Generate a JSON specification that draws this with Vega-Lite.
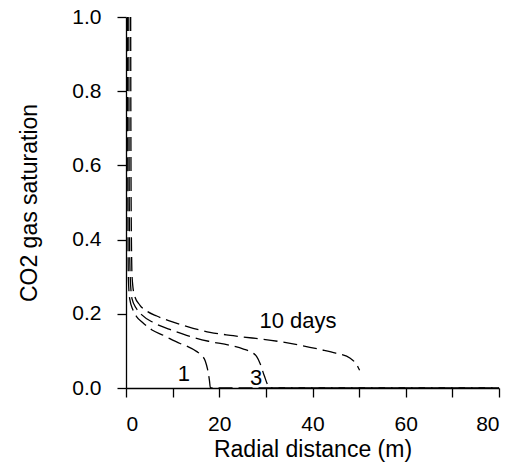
{
  "$schema": "https://vega.github.io/schema/vega-lite/v6.json",
  "autosize": "none",
  "width": 373,
  "height": 371,
  "padding": {"left": 126, "top": 17, "right": 14, "bottom": 82},
  "config": {
    "view": {"stroke": null},
    "font": "Liberation Sans",
    "axis": {"grid": false, "domainColor": "black", "tickColor": "black", "labelColor": "black", "titleColor": "black", "labelFont": "Liberation Sans", "titleFont": "Liberation Sans", "labelFontSize": 21, "titleFontSize": 23, "titleFontWeight": "normal", "tickSize": 9, "domainWidth": 1.3, "tickWidth": 1.3}
  },
  "datasets": {
    "curves": [
      {"day": "1", "r": 0.3, "s": 1.0},
      {"day": "1", "r": 0.4, "s": 0.5},
      {"day": "1", "r": 0.5, "s": 0.3},
      {"day": "1", "r": 0.8, "s": 0.24},
      {"day": "1", "r": 1.5, "s": 0.21},
      {"day": "1", "r": 2.3, "s": 0.192},
      {"day": "1", "r": 3.5, "s": 0.177},
      {"day": "1", "r": 5.5, "s": 0.157},
      {"day": "1", "r": 8.0, "s": 0.142},
      {"day": "1", "r": 11.6, "s": 0.12},
      {"day": "1", "r": 13.0, "s": 0.113},
      {"day": "1", "r": 15.2, "s": 0.098},
      {"day": "1", "r": 16.2, "s": 0.088},
      {"day": "1", "r": 17.0, "s": 0.073},
      {"day": "1", "r": 17.5, "s": 0.05},
      {"day": "1", "r": 17.9, "s": 0.02},
      {"day": "1", "r": 18.1, "s": 0.0},
      {"day": "1", "r": 80, "s": 0.0},
      {"day": "3", "r": 0.6, "s": 1.0},
      {"day": "3", "r": 0.7, "s": 0.5},
      {"day": "3", "r": 0.9, "s": 0.3},
      {"day": "3", "r": 1.3, "s": 0.24},
      {"day": "3", "r": 2.2, "s": 0.215},
      {"day": "3", "r": 3.4, "s": 0.197},
      {"day": "3", "r": 5.9, "s": 0.176},
      {"day": "3", "r": 9.4, "s": 0.158},
      {"day": "3", "r": 13.0, "s": 0.142},
      {"day": "3", "r": 17.7, "s": 0.126},
      {"day": "3", "r": 22.3, "s": 0.115},
      {"day": "3", "r": 25.2, "s": 0.105},
      {"day": "3", "r": 26.8, "s": 0.097},
      {"day": "3", "r": 28.0, "s": 0.085},
      {"day": "3", "r": 28.8, "s": 0.065},
      {"day": "3", "r": 29.6, "s": 0.035},
      {"day": "3", "r": 30.9, "s": 0.0},
      {"day": "3", "r": 80, "s": 0.0},
      {"day": "10", "r": 1.0, "s": 1.0},
      {"day": "10", "r": 1.1, "s": 0.5},
      {"day": "10", "r": 1.3, "s": 0.3},
      {"day": "10", "r": 1.8, "s": 0.25},
      {"day": "10", "r": 3.0, "s": 0.223},
      {"day": "10", "r": 4.5, "s": 0.207},
      {"day": "10", "r": 6.6, "s": 0.194},
      {"day": "10", "r": 9.8, "s": 0.179},
      {"day": "10", "r": 14.4, "s": 0.161},
      {"day": "10", "r": 18.0, "s": 0.15},
      {"day": "10", "r": 23.0, "s": 0.141},
      {"day": "10", "r": 33.0, "s": 0.125},
      {"day": "10", "r": 41.6, "s": 0.104},
      {"day": "10", "r": 45.0, "s": 0.094},
      {"day": "10", "r": 48.1, "s": 0.08},
      {"day": "10", "r": 49.3, "s": 0.066},
      {"day": "10", "r": 50.1, "s": 0.048}
    ],
    "labels": [
      {"text": "10 days", "r": 36.9, "s": 0.18},
      {"text": "1", "r": 12.4, "s": 0.039},
      {"text": "3", "r": 27.9, "s": 0.028}
    ]
  },
  "layer": [
    {
      "data": {"name": "curves"},
      "mark": {"type": "line", "color": "black", "strokeWidth": 1.3, "strokeDash": [14, 6], "interpolate": "monotone"},
      "encoding": {
        "x": {"field": "r", "type": "quantitative", "scale": {"domain": [0, 80], "nice": false},
          "axis": {"title": "Radial distance (m)", "values": [0, 10, 20, 30, 40, 50, 60, 70, 80], "labelExpr": "datum.value % 20 === 0 ? datum.label : ''", "labelPadding": 16, "titlePadding": 4}},
        "y": {"field": "s", "type": "quantitative", "scale": {"domain": [0, 1], "nice": false},
          "axis": {"title": "CO2 gas saturation", "values": [0, 0.1, 0.2, 0.3, 0.4, 0.5, 0.6, 0.7, 0.8, 0.9, 1.0], "format": ".1f", "labelExpr": "(round(datum.value*10) % 2 === 0) ? datum.label : ''", "labelPadding": 16, "titlePadding": 30}},
        "detail": {"field": "day", "type": "nominal"},
        "order": {"field": "r", "type": "quantitative"}
      }
    },
    {
      "data": {"name": "labels"},
      "mark": {"type": "text", "fontSize": 22, "color": "black", "font": "Liberation Sans"},
      "encoding": {
        "x": {"field": "r", "type": "quantitative"},
        "y": {"field": "s", "type": "quantitative"},
        "text": {"field": "text", "type": "nominal"}
      }
    }
  ]
}
